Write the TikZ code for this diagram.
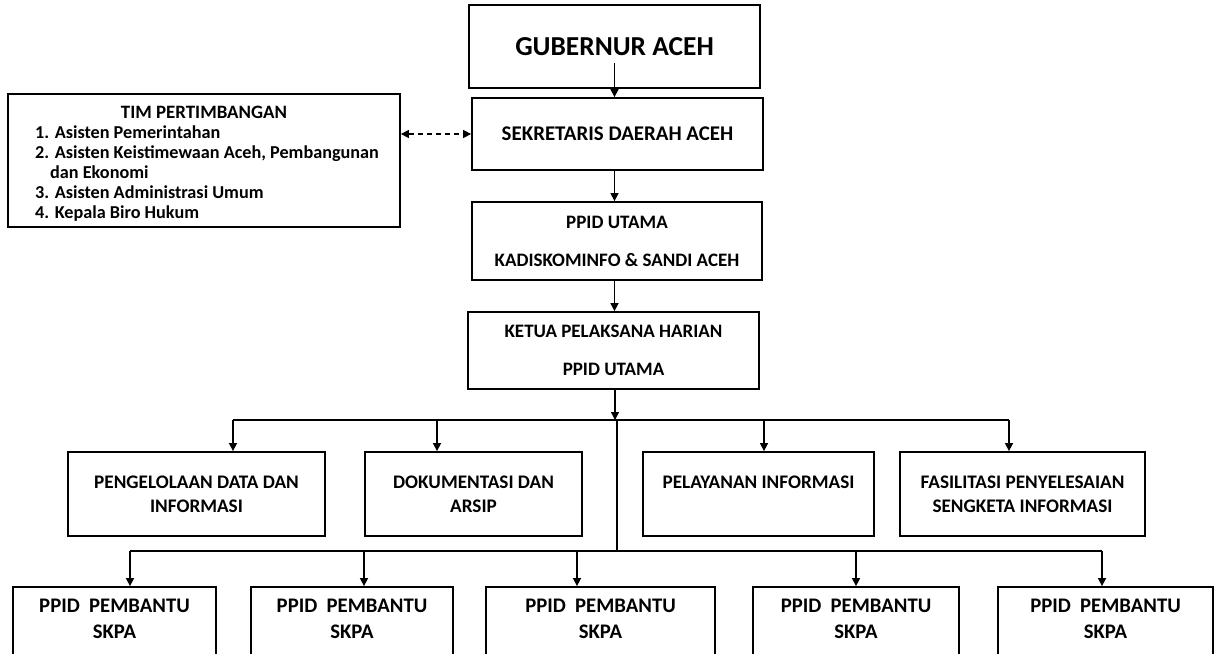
\documentclass[tikz,border=0pt]{standalone}
\usepackage{fontspec}
\setmainfont{Carlito}
\usetikzlibrary{arrows.meta}
\tikzset{
  box/.style={draw, line width=1.8pt, align=center, inner sep=0pt,
    font=\bfseries\fontsize{19}{38}\selectfont},
  unitbox/.style={box, minimum height=84pt, font=\bfseries\fontsize{19.2}{24}\selectfont},
  skpabox/.style={box, minimum height=90pt, font=\bfseries\fontsize{20.7}{26}\selectfont},
  arr/.style={-{Triangle[length=8pt,width=8pt]}, line width=1.5pt},
  darr/.style={{Triangle[length=8pt,width=8pt]}-{Triangle[length=8pt,width=8pt]},
    line width=1.4pt, dash pattern=on 5pt off 4pt},
}
\begin{document}
\begin{tikzpicture}[x=1pt, y=-1pt]
    \useasboundingbox (0,0) rectangle (1215,653);
    % main column
    \node[box, minimum width=291pt, minimum height=83pt,
      font=\bfseries\fontsize{27.4}{30}\selectfont] (gub) at (614.5,46.5) {GUBERNUR ACEH};
    \node[box, minimum width=291pt, minimum height=72pt,
      font=\bfseries\fontsize{20.9}{26}\selectfont] (sek) at (617.5,134) {SEKRETARIS DAERAH ACEH};
    \node[box, minimum width=290pt, minimum height=78pt] (ppid) at (617,241) {PPID UTAMA\\KADISKOMINFO \& SANDI ACEH};
    \node[box, minimum width=291pt, minimum height=77pt] (ketua) at (613.5,350.5) {KETUA PELAKSANA HARIAN\\PPID UTAMA};
    \draw[arr] ([yshift=-16pt]gub.center) -- (gub.center |- sek.north);
    \draw[arr] (sek.south -| gub.center) -- (ppid.north -| gub.center);
    \draw[arr] (ppid.south -| gub.center) -- (ketua.north -| gub.center);
    % tim pertimbangan
    \node[draw, line width=1.8pt, minimum width=392pt, minimum height=133pt] (tim) at (204,160.5) {};
    \node[anchor=base, font=\bfseries\fontsize{18.9}{20}\selectfont] (timhead) at (204,118) {TIM PERTIMBANGAN};
    \node[anchor=base west, align=left, inner sep=0pt, font=\bfseries\fontsize{18.2}{20}\selectfont] (timlist) at (35,218)
      {1. Asisten Pemerintahan\\2. Asisten Keistimewaan Aceh, Pembangunan\\\hspace*{15pt}dan Ekonomi\\3. Asisten Administrasi Umum\\4. Kepala Biro Hukum};
    \draw[darr] (sek.west -| tim.east) -- (sek.west);
    % bidang
    \node[unitbox, minimum width=257pt] (dat) at (196.5,494) {PENGELOLAAN DATA DAN\\INFORMASI};
    \node[unitbox, minimum width=217pt] (dok) at (473.5,494) {DOKUMENTASI DAN\\ARSIP};
    \node[unitbox, minimum width=231pt] (lay) at (758.5,494) {PELAYANAN INFORMASI\\\mbox{}};
    \node[unitbox, minimum width=245pt] (fas) at (1022.5,494) {FASILITASI PENYELESAIAN\\SENGKETA INFORMASI};
    \coordinate (top) at (615,420);
    \coordinate (b1) at (233,420);
    \coordinate (b4) at (1009,420);
    \draw[arr] (ketua.south -| top) -- (top);
    \draw[line width=1.7pt] (b1) -- (b4);
    \foreach \x/\n in {233/dat,437/dok,764/lay,1009/fas}
      \draw[arr] (\x,420) -- (\x,0 |- \n.north);
    % pembantu
    \coordinate (low) at (617,551);
    \draw[line width=2.2pt] (617,420) -- (low);
    \node[skpabox, minimum width=203pt] (s1) at (114.5,632) {PPID\ \ PEMBANTU\\SKPA\\\mbox{}};
    \node[skpabox, minimum width=202pt] (s2) at (352,632) {PPID\ \ PEMBANTU\\SKPA\\\mbox{}};
    \node[skpabox, minimum width=229pt] (s3) at (600.5,632) {PPID\ \ PEMBANTU\\SKPA\\\mbox{}};
    \node[skpabox, minimum width=206pt] (s4) at (856,632) {PPID\ \ PEMBANTU\\SKPA\\\mbox{}};
    \node[skpabox, minimum width=215pt] (s5) at (1105.5,632) {PPID\ \ PEMBANTU\\SKPA\\\mbox{}};
    \draw[line width=1.7pt] (130,551) -- (1102,551);
    \foreach \x/\n in {130/s1,364/s2,577/s3,856/s4,1102/s5}
      \draw[arr] (\x,551) -- (\x,0 |- \n.north);
\end{tikzpicture}
\end{document}
